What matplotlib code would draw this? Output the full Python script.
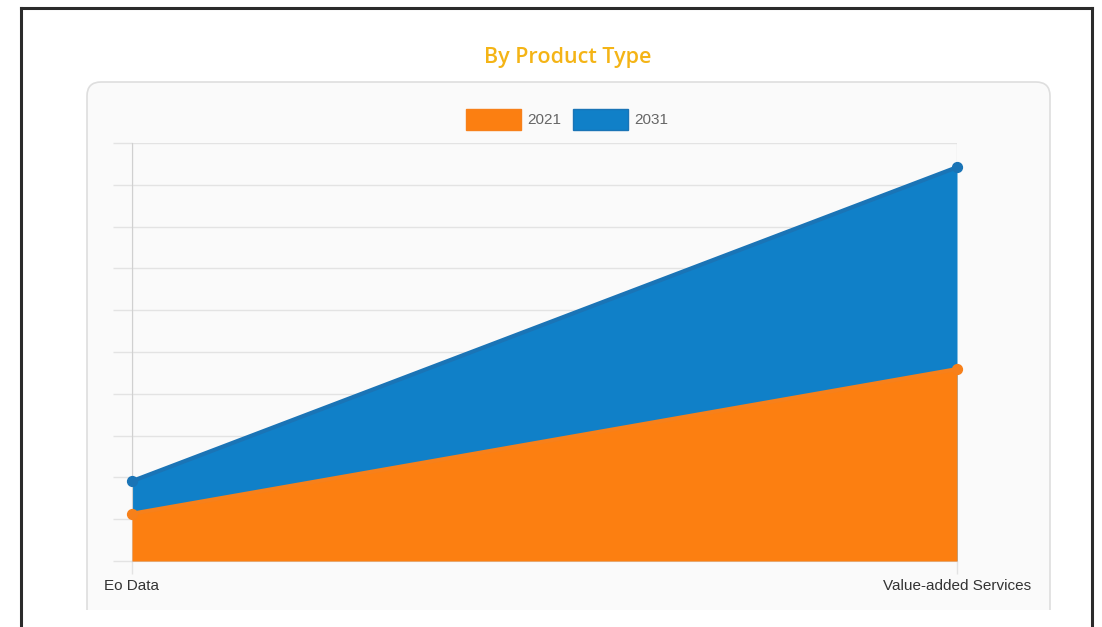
import matplotlib.pyplot as plt
from matplotlib.patches import FancyBboxPatch, Rectangle
from matplotlib.lines import Line2D

# data
categories = ['Eo Data', 'Value-added Services']
years = ['2021', '2031']
values_2021 = [1.13, 4.59]
values_2031 = [1.91, 9.42]

W, H = 1102, 627
fig = plt.figure(figsize=(W / 100, H / 100), dpi=100)

# background layer in pixel coords
bg = fig.add_axes([0, 0, 1, 1])
bg.set_xlim(0, W)
bg.set_ylim(H, 0)
bg.axis('off')

# card
card = FancyBboxPatch((87, 82), 963, 560, boxstyle="round,pad=0,rounding_size=14",
                      facecolor='#fafafa', edgecolor='#dedede', linewidth=1.2)
bg.add_patch(card)
bg.add_patch(Rectangle((22, 610), 1068, 20, facecolor='white', edgecolor='none'))

# outer frame (no bottom edge)
for xs, ys in [([20.5, 20.5], [H, 7.5]), ([20.5, 1092], [7.5, 7.5]), ([1092, 1092], [7.5, H])]:
    bg.add_line(Line2D(xs, ys, color='#2b2b2b', linewidth=2.2))

# title
bg.text(568, 57, 'By Product Type', ha='center', va='center', fontsize=15.5,
        color='#f4b416', fontfamily='Open Sans', fontweight='semibold')

# legend
colors = {'2021': ('#fc7f11', '#f7801a'), '2031': ('#1080c8', '#1a74b6')}
for x0, yr in [(466, '2021'), (573, '2031')]:
    fc, ec = colors[yr]
    bg.add_patch(Rectangle((x0, 109), 55, 21, facecolor=fc, edgecolor=ec, linewidth=1))
    bg.text(x0 + 61, 120, yr, ha='left', va='center', fontsize=11,
            color='#666666', fontfamily='Liberation Sans')

# main plot
left, right, top, bottom = 132, 957, 143, 561
ax = fig.add_axes([left / W, 1 - bottom / H, (right - left) / W, (bottom - top) / H])
ax.patch.set_alpha(0)
x = list(range(len(categories)))

ax.fill_between(x, 0, values_2031, color='#1080c8', linewidth=0, zorder=2)
ax.plot(x, values_2031, color='#1a74b6', linewidth=3, zorder=3)
ax.fill_between(x, 0, values_2021, color='#fc7f11', linewidth=0, zorder=4)
ax.plot(x, values_2021, color='#f7801a', linewidth=3, zorder=5)
ax.scatter(x, values_2031, s=50, color='#1a74b6', zorder=6, clip_on=False)
ax.scatter(x, values_2021, s=50, color='#f7801a', zorder=7, clip_on=False)

ax.set_xlim(0, 1)
ax.set_ylim(0, 10)
ax.set_yticks(range(0, 11))
ax.set_yticklabels([])
ax.set_xticks(x)
ax.set_xticklabels(categories, fontsize=11, color='#333333', fontfamily='Liberation Sans')
ax.tick_params(axis='y', length=14, width=1, color='#e3e3e3')
ax.tick_params(axis='x', length=9, width=1, color='#e3e3e3', pad=4)
ax.grid(True, axis='y', color='#e3e3e3', linewidth=1, zorder=0)
ax.grid(True, axis='x', color='#e3e3e3', linewidth=1, zorder=0)
for side in ['top', 'right']:
    ax.spines[side].set_visible(False)
ax.spines['left'].set_color('#d0d0d0')
ax.spines['bottom'].set_color('#d0d0d0')

fig.savefig('out.png', dpi=100)
